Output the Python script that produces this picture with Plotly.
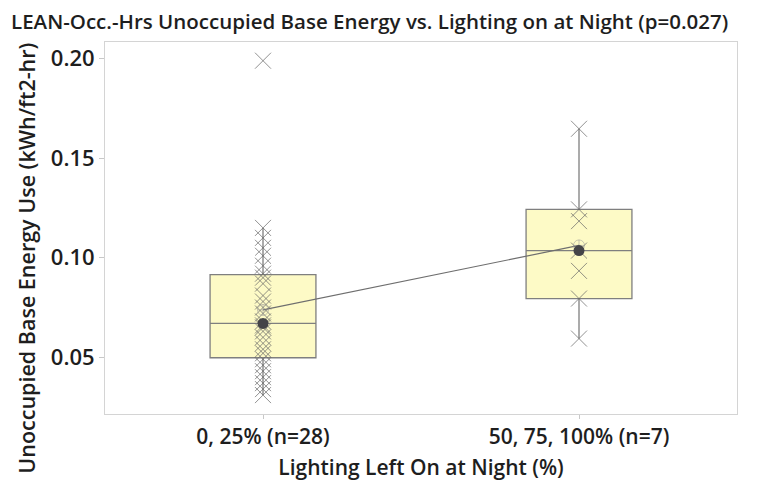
import numpy as np
import plotly.graph_objects as go

categories = ["0, 25% (n=28)", "50, 75, 100% (n=7)"]
group_low = [0.031, 0.034, 0.037, 0.040, 0.043, 0.046, 0.049, 0.052, 0.054, 0.057,
             0.060, 0.063, 0.065, 0.066, 0.068, 0.072, 0.075, 0.078, 0.081, 0.087,
             0.090, 0.092, 0.096, 0.101, 0.105, 0.110, 0.115, 0.199]
group_high = [0.0594, 0.0795, 0.0934, 0.1036, 0.1184, 0.1243, 0.1648]
y_ticks = [0.05, 0.10, 0.15, 0.20]
y_tick_labels = ["0.05", "0.10", "0.15", "0.20"]

groups = [group_low, group_high]

FONT = "Open Sans"
TXT = "#1e1e1e"
GREY = "#7f7f7f"

fig = go.Figure()

stats = []
for cat, vals in zip(categories, groups):
    v = np.array(vals)
    q1, med, q3 = np.percentile(v, [25, 50, 75], method="weibull")
    iqr = q3 - q1
    lo = v[v >= q1 - 1.5 * iqr].min()
    hi = v[v <= q3 + 1.5 * iqr].max()
    stats.append((cat, q1, med, q3, lo, hi, v.mean()))
    fig.add_trace(go.Box(
        x=[cat], q1=[q1], median=[med], q3=[q3], lowerfence=[lo], upperfence=[hi],
        fillcolor="#fdfac6", line=dict(color=GREY, width=1.3), whiskerwidth=0,
        width=0.335, boxpoints=False, showlegend=False, hoverinfo="skip",
    ))

# individual data points
for cat, vals in zip(categories, groups):
    fig.add_trace(go.Scatter(
        x=[cat] * len(vals), y=vals, mode="markers",
        marker=dict(symbol="x-thin-open", size=16, color="rgba(100,100,100,0.7)",
                    line=dict(width=1, color="rgba(100,100,100,0.7)")),
        showlegend=False, hoverinfo="skip",
    ))

# mean connect line
fig.add_trace(go.Scatter(
    x=[s[0] for s in stats], y=[s[6] for s in stats], mode="lines+markers",
    line=dict(color="#6e6e6e", width=1.2),
    marker=dict(symbol="circle-cross-open", size=11, color="rgba(150,150,150,0.5)",
                line=dict(width=1, color="rgba(150,150,150,0.5)")),
    showlegend=False, hoverinfo="skip",
))

# median dot
fig.add_trace(go.Scatter(
    x=[s[0] for s in stats], y=[s[2] for s in stats], mode="markers",
    marker=dict(symbol="circle", size=11, color="#444448"),
    showlegend=False, hoverinfo="skip",
))

fig.update_layout(
    width=757, height=480,
    margin=dict(l=97, r=28, t=34, b=66),
    paper_bgcolor="white", plot_bgcolor="white",
    font=dict(family=FONT, color=TXT),
    title=dict(text="LEAN-Occ.-Hrs Unoccupied Base Energy vs. Lighting on at Night (p=0.027)",
               x=0.004, xanchor="left", y=0.972, yanchor="middle",
               font=dict(family=FONT, size=20.5, color=TXT, weight=600)),
    xaxis=dict(type="category", categoryorder="array", categoryarray=categories,
               range=[-0.5, 1.5], showline=True, mirror=True, linecolor="#d4d4d4",
               linewidth=1, ticks="outside", ticklen=4, tickcolor="#c8c8c8",
               tickfont=dict(size=21, color=TXT, weight=600), showgrid=False,
               title=dict(text="Lighting Left On at Night (%)", standoff=11,
                          font=dict(size=21, color=TXT, weight=600))),
    yaxis=dict(range=[0.0215, 0.2084], tickvals=y_ticks, ticktext=y_tick_labels,
               showline=True, mirror=True, linecolor="#d4d4d4", linewidth=1,
               ticks="outside", ticklen=5, tickcolor="#c8c8c8", showgrid=False,
               zeroline=False, tickfont=dict(size=22, color=TXT, weight=600)),
    annotations=[dict(text="Unoccupied Base Energy Use (kWh/ft2-hr)", textangle=-90,
                      xref="paper", yref="paper", x=-0.1235, y=0.42,
                      xanchor="center", yanchor="middle", showarrow=False,
                      font=dict(size=21.5, color=TXT, weight=600))],
)

fig.write_html("out.html")
